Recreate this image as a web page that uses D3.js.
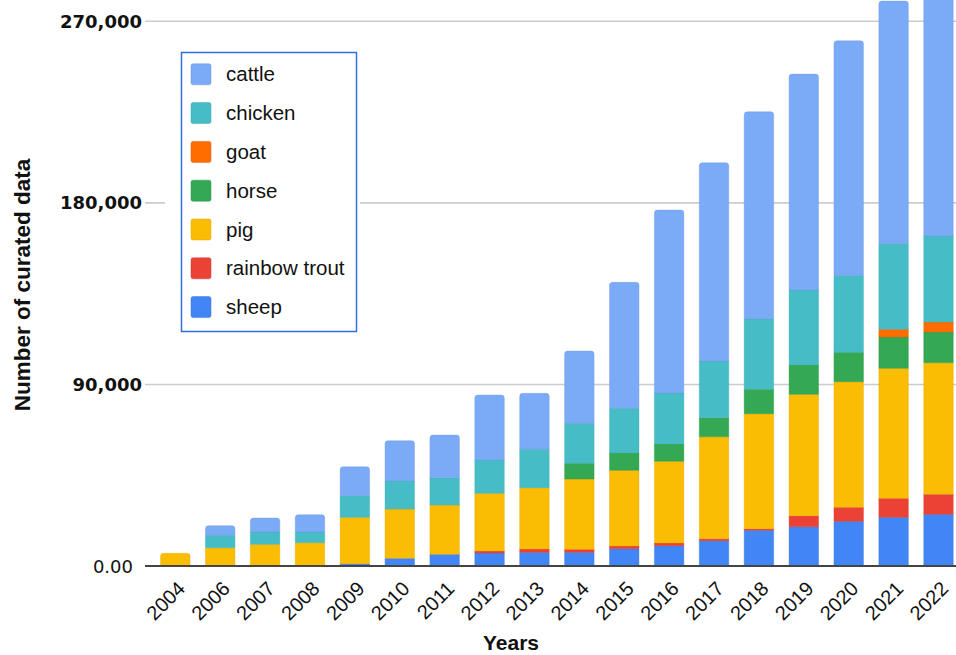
<!DOCTYPE html>
<html lang="en">
<head>
    <meta charset="UTF-8">
    <title>Number of curated data by year</title>
    <script src="https://d3js.org/d3.v7.min.js"></script>
    <style>
        body {
            margin: 0;
            background: #ffffff;
        }
        svg {
            display: block;
        }
        .tick-label {
            font-family: "DejaVu Sans", Verdana, sans-serif;
            font-size: 18px;
            font-weight: bold;
            fill: #111;
        }
        .year-label {
            font-family: "Liberation Sans", Arial, sans-serif;
            font-size: 20px;
            fill: #111;
        }
        .axis-title {
            font-family: "Liberation Sans", Arial, sans-serif;
            font-weight: bold;
            fill: #111;
        }
        .legend-label {
            font-family: "Liberation Sans", Arial, sans-serif;
            font-size: 20.5px;
            fill: #111;
        }
    </style>
</head>
<body>
    <svg id="chart" width="956" height="655"></svg>

    <script>
        // data
        const years = ["2004", "2006", "2007", "2008", "2009", "2010", "2011", "2012", "2013",
                       "2014", "2015", "2016", "2017", "2018", "2019", "2020", "2021", "2022"];

        const sheep   = [0, 0, 0, 0, 1000, 3660, 5640, 6290, 6640, 6640, 8420, 9910, 12380, 17530, 19320, 21990, 23970, 25460];
        const trout   = [0, 0, 0, 0, 0, 0, 0, 990, 1630, 1480, 1340, 1330, 990, 800, 5450, 6940, 9410, 9900];
        const pig     = [6140, 8900, 10600, 11400, 22950, 24400, 24400, 28580, 30360, 34820, 37490, 40470, 50520, 56960, 60120, 62210, 64390, 65180];
        const horse   = [0, 0, 0, 0, 0, 0, 0, 0, 0, 7780, 8570, 8570, 9410, 12080, 14520, 14560, 15500, 15210];
        const goat    = [0, 0, 0, 0, 0, 0, 0, 0, 0, 0, 0, 0, 0, 0, 0, 0, 3820, 4950];
        const chicken = [0, 6150, 6100, 5300, 10700, 13900, 13500, 16490, 19020, 19810, 22140, 25260, 28090, 34820, 37140, 38130, 42590, 42600];
        const cattle  = [0, 4750, 6900, 8550, 14350, 19950, 21150, 32200, 27740, 35810, 62410, 90640, 98220, 102680, 106990, 116200, 120020, 135000];

        // bottom to top stacking order
        const seriesNames = ["sheep", "rainbow trout", "pig", "horse", "goat", "chicken", "cattle"];
        const seriesValues = [sheep, trout, pig, horse, goat, chicken, cattle];
        const seriesColors = ["#4285f4", "#ea4335", "#fbbc04", "#34a853", "#ff6d01", "#46bdc6", "#7baaf7"];

        const yTicks = [0, 90000, 180000, 270000];

        const svg = d3.select("#chart");

        const x = d3.scaleBand()
            .domain(years)
            .range([152.85, 960.95])
            .paddingInner(0.343)
            .paddingOuter(0.1715);

        const y = d3.scaleLinear()
            .domain([0, 270000])
            .range([565.7, 20.7]);

        const table = years.map((yr, i) => {
            const row = {year: yr};
            seriesNames.forEach((s, k) => row[s] = seriesValues[k][i]);
            return row;
        });

        const stacked = d3.stack().keys(seriesNames)(table);

        // gridlines + y labels
        const yAxis = svg.append("g")
            .attr("transform", "translate(145,0)")
            .call(d3.axisLeft(y)
                .tickValues(yTicks)
                .tickSize(-811)
                .tickPadding(4)
                .tickFormat(d => d === 0 ? "0.00" : d3.format(",")(d)));
        yAxis.select(".domain").remove();
        yAxis.selectAll(".tick line")
            .attr("stroke", d => d === 0 ? "#444" : "#cccccc")
            .attr("stroke-width", 1.6);
        yAxis.selectAll(".tick text")
            .attr("class", "tick-label")
            .attr("dy", "0.36em")
            .attr("x", d => d === 0 ? -12 : -3)
            .style("font-weight", d => d === 0 ? "normal" : "bold");

        // rounded top corners for the last segment of every bar
        function topRounded(x0, y0, w, h, r) {
            r = Math.min(r, h, w / 2);
            return `M${x0},${y0 + h}V${y0 + r}Q${x0},${y0} ${x0 + r},${y0}` +
                   `H${x0 + w - r}Q${x0 + w},${y0} ${x0 + w},${y0 + r}V${y0 + h}Z`;
        }

        const topKey = years.map((yr, i) => {
            let k = -1;
            seriesValues.forEach((v, j) => { if (v[i] > 0) k = j; });
            return k;
        });

        const bars = svg.append("g");
        stacked.forEach((layer, j) => {
            bars.selectAll(null)
                .data(layer.filter(d => d[1] - d[0] > 0))
                .enter().append("path")
                .attr("fill", seriesColors[j])
                .attr("stroke", d3.color(seriesColors[j]).darker(0.25))
                .attr("stroke-opacity", 0.5)
                .attr("stroke-width", 0.8)
                .attr("d", d => {
                    const i = years.indexOf(d.data.year);
                    const x0 = x(d.data.year);
                    const y0 = y(d[1]);
                    const h = y(d[0]) - y(d[1]);
                    const r = topKey[i] === j ? 3 : 0;
                    return topRounded(x0, y0, x.bandwidth(), h, r);
                });
        });

        // baseline drawn again over the bars
        svg.append("line")
            .attr("x1", 145).attr("x2", 956)
            .attr("y1", y(0)).attr("y2", y(0))
            .attr("stroke", "#444")
            .attr("stroke-width", 1.6);

        // x labels
        svg.append("g")
            .selectAll("text")
            .data(years)
            .enter().append("text")
            .attr("class", "year-label")
            .attr("text-anchor", "end")
            .attr("transform", d => `translate(${x(d) + x.bandwidth() / 2 + 11},590) rotate(-45)`)
            .text(d => d);

        // axis titles
        svg.append("text")
            .attr("class", "axis-title")
            .attr("text-anchor", "middle")
            .style("font-size", "21px")
            .attr("x", 511)
            .attr("y", 650)
            .text("Years");

        svg.append("text")
            .attr("class", "axis-title")
            .attr("text-anchor", "middle")
            .style("font-size", "22.5px")
            .attr("transform", "translate(30,285) rotate(-90)")
            .text("Number of curated data");

        // legend
        const legendOrder = seriesNames.map((n, k) => ({name: n, color: seriesColors[k]})).reverse();
        const legend = svg.append("g");
        legend.append("rect")
            .attr("x", 165).attr("y", 45)
            .attr("width", 195).attr("height", 294)
            .attr("fill", "#fff");
        legend.append("rect")
            .attr("x", 181.5).attr("y", 52.5)
            .attr("width", 175).attr("height", 279)
            .attr("fill", "none")
            .attr("stroke", "#2f6fe4")
            .attr("stroke-width", 1.5);

        const items = legend.selectAll(".item")
            .data(legendOrder)
            .enter().append("g")
            .attr("transform", (d, i) => `translate(0,${74.3 + i * 38.8})`);
        items.append("rect")
            .attr("x", 191).attr("y", -10.5)
            .attr("width", 20).attr("height", 21)
            .attr("rx", 2)
            .attr("fill", d => d.color)
            .attr("stroke", d => d3.color(d.color).darker(0.3))
            .attr("stroke-opacity", 0.5);
        items.append("text")
            .attr("class", "legend-label")
            .attr("x", 226)
            .attr("dy", "0.35em")
            .text(d => d.name);
    </script>
</body>
</html>
